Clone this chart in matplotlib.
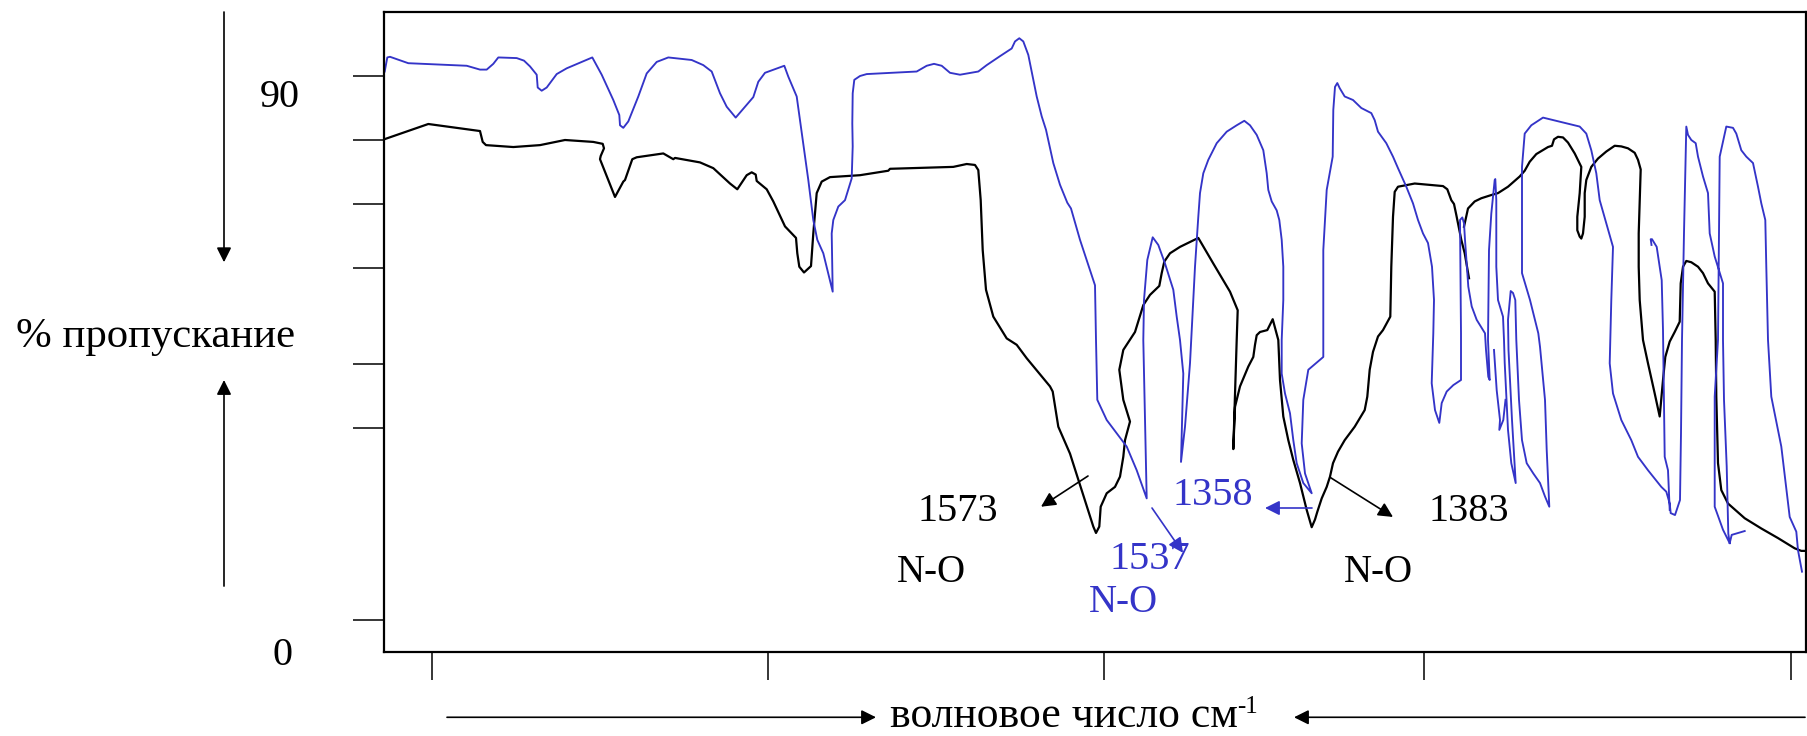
import numpy as np
import matplotlib
matplotlib.use("Agg")
import matplotlib.pyplot as plt

plt.rcParams['font.family'] = ['Liberation Serif', 'DejaVu Serif']

BLUE = '#3434c8'
NAN = float('nan')

# Sample spectrum (black): position along the wavenumber axis, % transmittance
black_pos = [0.0, 4.43, 9.6, 9.87, 10.2, 12.93, 15.6, 18.1, 20.93, 21.87, 22.0, 21.67, 21.6,
             23.1, 23.93, 24.1, 24.83, 25.27, 27.93, 28.93, 29.1, 31.6, 32.93, 34.6, 35.33,
             36.27, 36.77, 37.17, 37.27, 38.27, 38.93, 40.1, 41.2, 41.33, 41.53, 42.0, 42.7,
             42.93, 43.27, 43.77, 44.6, 47.6, 50.43, 50.6, 56.93, 58.27, 59.1, 59.43, 59.67,
             59.87, 60.2, 60.93, 62.27, 63.27, 64.27, 66.6, 66.87, 67.43, 68.6, 70.93, 71.2,
             71.53, 71.67, 72.27, 73.1, 73.6, 73.93, 74.1, 74.6, 73.93, 73.53, 73.93, 75.1,
             75.93, 76.6, 77.53, 77.77, 78.03, 78.6, 79.6, 81.43, 82.93, 84.6, 85.37, 85.27,
             84.93, 85.1, 85.6, 86.43, 86.93, 87.1, 87.27, 87.6, 88.33, 88.87, 89.43, 89.6,
             89.93, 90.43, 90.93, 91.6, 92.27, 92.77, 93.1, 93.33, 93.77, 94.27, 94.6, 94.9,
             95.4, 96.07, 97.07, 98.07, 98.33, 98.57, 98.9, 99.4, 99.9, 100.63, 100.73, 100.9,
             101.07, 101.4, 103.07, 105.9, 106.33, 106.73, 107.0, 107.23, 107.73, 108.07, 108.5,
             NAN,
             108.0, 108.4, 109.07, 109.73, 110.73, 111.4, 112.4, 113.57, 114.07, 114.57, 115.23,
             116.4, 116.8, 117.0, 117.4, 117.9, 118.4, 119.07, 119.73, 119.57, 119.33, 119.33,
             119.57, 119.73, 119.9, 120.07, 120.07, 120.23, 120.73, 121.4, 122.23, 123.07,
             123.73, 124.4, 125.07, 125.4, 125.67, 125.57, 125.47, 125.47, 125.57, 125.9, 126.4,
             127.07, 127.57, 127.9, 128.13, 128.57, 129.07, 129.57, 129.67, 129.9, 130.23,
             130.73, 131.4, 131.9, 132.4, 133.07, 133.17, 133.23, 133.4, 133.73, 134.4, 136.07,
             137.73, 139.4, 141.07, 141.73, 142.2]
black_T = [80.1, 82.5, 81.4, 79.7, 79.2, 78.9, 79.2, 80.0, 79.7, 79.4, 78.7, 77.5, 77.0,
           71.1, 73.5, 73.75, 77.0, 77.3, 77.9, 77.0, 77.2, 76.5, 75.6, 73.2, 72.3,
           74.5, 74.95, 74.6, 73.6, 72.3, 70.4, 66.5, 64.7, 62.3, 60.2, 59.3, 60.3,
           65.4, 71.7, 73.5, 74.2, 74.5, 75.2, 75.5, 75.8, 76.25, 76.1, 75.3, 70.6,
           62.8, 56.6, 52.4, 49.0, 48.0, 45.9, 41.5, 40.7, 35.2, 31.0, 19.6, 18.6,
           19.6, 22.7, 24.8, 25.8, 27.4, 30.5, 33.1, 36.0, 39.4, 44.1, 47.2, 50.0,
           54.2, 55.8, 57.2, 59.2, 61.0, 62.3, 63.3, 64.7, 60.7, 56.3, 53.4, 48.75,
           31.7, 38.3, 41.5, 44.6, 46.1, 48.0, 49.5, 50.0, 50.3, 52.0, 48.75, 42.5,
           36.8, 33.1, 30.0, 26.4, 22.2, 19.5, 20.7, 21.9, 24.0, 25.8, 27.4, 29.5,
           31.3, 33.1, 35.2, 37.8, 39.9, 44.1, 46.9, 49.3, 50.3, 52.4, 60.2, 68.0,
           71.9, 72.7, 73.2, 72.8, 72.3, 70.6, 70.0, 68.3, 64.4, 62.3, 58.4,
           NAN,
           66.45, 69.3, 70.4, 70.9, 71.4, 71.7, 72.7, 74.3, 75.2, 76.6, 77.8,
           78.9, 79.1, 80.1, 80.5, 80.4, 79.6, 77.9, 75.8, 71.7, 68.0, 65.9,
           64.9, 64.6, 65.4, 68.0, 71.7, 73.75, 75.8, 77.1, 78.2, 79.1,
           79.0, 78.7, 78.0, 76.9, 75.4, 70.6, 65.4, 60.2, 55.0, 48.75, 45.1,
           40.4, 36.8, 42.5, 46.1, 48.5, 50.0, 51.6, 57.6, 60.2, 61.1,
           60.9, 60.2, 59.2, 57.6, 56.3, 48.75, 39.9, 29.5, 25.3, 23.2, 20.9,
           19.3, 17.8, 16.2, 15.8, 15.8]

# Reference spectrum (blue)
blue_pos = [0.07, 0.33, 0.6, 2.43, 8.27, 9.6, 10.27, 10.93, 11.43, 13.27, 14.0, 14.6, 15.27,
            15.37, 15.77, 16.27, 17.27, 18.27, 20.83, 21.77, 22.93, 23.53, 23.6, 23.93, 24.43,
            25.43, 26.27, 27.27, 28.43, 30.77, 31.93, 32.77, 33.6, 34.27, 35.17, 36.93, 37.43,
            38.1, 40.03, 40.43, 41.27, 42.43, 42.93, 43.33, 43.93, 44.87, 44.77, 44.93, 45.43,
            46.1, 46.77, 46.87, 46.83, 46.87, 47.03, 47.6, 48.27, 53.27, 54.27, 55.0, 55.77,
            56.6, 57.6, 59.43, 60.27, 61.6, 62.77, 63.1, 63.53, 63.93, 64.43, 65.27, 65.77,
            66.2, 66.93, 67.6, 68.33, 68.7, 69.6, 71.1, 71.2, 71.33, 72.27, 74.27, 75.27,
            76.27, 75.93, 76.0, 76.33, 76.87, 77.43, 78.1, 78.93, 79.27, 79.6, 79.93, 79.7,
            80.1, 80.6, 80.77, 81.1, 81.43, 81.6, 81.93, 82.43, 83.27, 84.27, 85.27, 86.03,
            86.6, 87.27, 87.93, 88.27, 88.43, 88.77, 89.27, 89.53, 89.77, 89.93, 89.93, 89.77,
            89.77, 90.1, 90.6, 90.93, 91.27, 91.93, 92.77, 92.1, 91.77, 91.93, 92.43, 93.93,
            93.93, 94.27, 94.87, 94.93, 95.1, 95.33, 95.57, 96.07, 96.9, 97.73, 98.73, 99.07,
            99.4, 100.23, 100.9, 101.4, 102.23, 102.9, 103.4, 103.9, 104.4, 104.8, 105.0,
            104.93, 104.77, 105.1, 105.53, 105.77, 106.27, 106.93, 107.7, 107.7, 107.6, 107.83,
            108.0, 108.1, 108.43, 108.77, 109.27, 110.1, 110.2, 110.43, 110.57,
            110.4, 110.5, 110.73, 111.07, 111.13, 111.23, 111.23, 111.4, 111.9, 112.0, 112.07,
            112.4, 112.73, 113.17, 112.8, 112.45, 112.4, 112.67, 112.9, 113.13, 113.23, 113.5,
            113.8, 114.27, 114.93, 115.6, 116.1, 116.53, 116.27, 116.1, 115.6, 115.43, 114.6,
            113.8, 113.8, 114.07, 114.73, 115.9,
            119.57, 120.23, 120.73, 121.23, 121.57, 122.23, 122.9, 122.73,
            122.57, 122.9, 123.73, 124.73, 125.4, 126.4, 127.73, 128.23, 128.57, 128.67, 129.1,
            129.6, 129.7, 129.8, 130.0, 130.23, 130.4, 130.73, 131.17, 131.4, 131.9, 132.4,
            132.57, 133.07, 133.9, 133.9, 134.0, 134.27, 134.43, 134.57, 133.9, 133.07, 133.07,
            133.4, 133.57, 134.23, 134.9, 135.23, 135.73, 136.23, 136.9, 137.4, 137.73, 138.13,
            138.23, 138.4, 138.73, 139.73, 140.57, 141.23, 141.4, 141.8,
            NAN, 134.57, 134.77, 136.07,
            NAN, 128.57, 128.4, 128.07, 127.9, 127.77, 127.27, 126.8, 126.67, 126.75,
            NAN, 111.0, 111.27, 111.6, 111.53, 111.93, 112.15]
blue_T = [90.7, 92.9, 93.0, 92.0, 91.6, 91.0, 91.0, 91.9, 92.9, 92.8, 92.4, 91.5, 90.2,
          88.2, 87.7, 88.2, 90.3, 91.2, 92.9, 90.2, 86.25, 83.9, 82.3, 81.9, 82.9,
          86.8, 90.4, 92.2, 92.9, 92.5, 91.7, 90.7, 87.3, 85.2, 83.5, 86.7, 89.1,
          90.5, 91.6, 89.9, 86.8, 73.75, 67.5, 64.4, 62.3, 56.3, 65.4, 67.5, 69.6,
          70.6, 74.0, 79.0, 82.6, 87.3, 89.4, 90.0, 90.3, 90.7, 91.6, 91.9, 91.6,
          90.5, 90.2, 90.7, 91.7, 93.1, 94.3, 95.4, 95.9, 95.4, 93.3, 86.8, 83.7,
          81.6, 76.4, 73.0, 70.2, 69.3, 64.4, 57.3, 48.75, 39.4, 36.25, 32.1, 28.4,
          24.0, 48.75, 55.0, 61.25, 64.8, 63.6, 60.7, 56.6, 52.4, 48.75, 43.5, 29.7,
          35.2, 45.1, 50.3, 60.2, 68.0, 71.7, 74.8, 76.9, 79.5, 81.3, 82.3, 83.0,
          82.3, 80.8, 78.4, 74.8, 72.2, 70.4, 69.0, 67.5, 64.4, 60.2, 55.0, 48.75,
          43.5, 40.4, 37.3, 33.1, 29.5, 26.4, 24.8, 27.9, 32.6, 39.4, 44.1, 46.1,
          62.8, 72.2, 77.4, 84.7, 88.3, 88.9, 88.1, 86.8, 86.25, 85.0, 84.2, 83.1,
          81.3, 79.5, 77.4, 75.6, 72.7, 70.1, 67.5, 65.4, 63.9, 60.2, 55.0,
          49.8, 42.0, 37.8, 35.8, 38.9, 40.7, 41.7, 42.5, 49.8, 67.5, 67.9,
          67.0, 64.4, 57.1, 54.0, 51.9, 49.8, 47.2, 43.0, 42.5,
          48.75, 62.8, 68.5, 73.75, 73.9, 70.6, 60.2, 55.0, 52.4, 48.75, 45.2,
          34.7, 29.5, 26.4, 36.25, 47.2, 51.9, 56.4, 56.1, 55.0, 48.75, 39.4,
          33.1, 29.5, 27.9, 26.4, 24.3, 22.7, 31.6, 39.4, 47.7, 49.8, 55.0,
          59.2, 75.8, 81.0, 82.3, 83.5,
          82.1, 81.0, 78.4, 74.8, 70.6, 67.0, 63.3, 55.0,
          45.1, 40.4, 36.25, 33.1, 30.5, 28.4, 25.8, 25.05, 23.2, 21.7, 21.4,
          23.75, 34.2, 48.75, 65.5, 82.1, 80.8, 80.0, 79.5, 77.4, 74.3, 71.7,
          65.4, 61.8, 57.6, 48.75, 39.4, 29.0, 18.5, 17.0, 19.1, 22.7, 39.9,
          48.75, 77.4, 82.1, 81.9, 81.0, 78.4, 77.4, 76.4, 72.7, 70.1, 67.5,
          60.2, 48.75, 39.9, 32.1, 21.1, 18.8, 15.9, 12.55,
          NAN, 17.0, 18.3, 18.9,
          NAN, 22.2, 28.4, 30.5, 50.3, 58.1, 63.3, 64.5, 64.5, 63.6,
          NAN, 47.2, 40.9, 36.25, 34.7, 36.25, 39.4]

# Axis furniture
y_tick_pos = [90, 80, 70, 60, 45, 35, 5]
x_tick_pos = [4.8, 38.4, 72.0, 104.0, 140.7]
y_tick_text = ["90", "0"]
y_tick_text_pos = [(-10.4, 86.7), (-10.1, -0.5)]

# Band assignments: (text, colour, label position, arrow tail, arrow head)
peak_labels = ["1573", "1537", "1358", "1383"]
peak_colors = ["black", BLUE, BLUE, "black"]
peak_text_pos = [(57.4, 21.9), (76.6, 14.4), (82.9, 24.5), (108.5, 21.9)]
peak_arrow_tail = [(70.4, 27.5), (76.8, 22.5), (92.8, 22.5), (94.6, 27.3)]
peak_arrow_head = [(65.7, 22.7), (79.9, 15.5), (88.1, 22.5), (100.9, 21.1)]
group_labels = ["N-O", "N-O", "N-O"]
group_colors = ["black", BLUE, "black"]
group_pos = [(54.7, 12.5), (73.9, 7.7), (99.4, 12.5)]

FS = 29

fig = plt.figure(figsize=(18.08, 7.36), dpi=100)
ax = fig.add_axes([384 / 1808, 84 / 736, 1422 / 1808, 640 / 736])
ax.set_xlim(0, 142.2)
ax.set_ylim(0, 100)

ax.plot(black_pos, black_T, color='black', lw=1.6, solid_joinstyle='round')
ax.plot(blue_pos, blue_T, color=BLUE, lw=1.35, solid_joinstyle='round')

for s in ax.spines.values():
    s.set_linewidth(1.6)
ax.set_yticks(y_tick_pos)
ax.set_xticks(x_tick_pos)
ax.tick_params(axis='y', direction='out', length=22, width=1.1, labelleft=False)
ax.tick_params(axis='x', direction='out', length=20, width=1.1, labelbottom=False)

for t, (x, y) in zip(y_tick_text, y_tick_text_pos):
    ax.text(x, y, t, fontsize=FS, ha='center', va='center', clip_on=False)

arrow_kw = dict(arrowstyle='-|>', lw=1.2, mutation_scale=22, shrinkA=0, shrinkB=0)

for lab, col, tp, tail, head in zip(peak_labels, peak_colors, peak_text_pos,
                                    peak_arrow_tail, peak_arrow_head):
    ax.text(tp[0], tp[1], lab, color=col, fontsize=FS, ha='center', va='center')
    ax.annotate('', xy=head, xytext=tail, arrowprops=dict(color=col, **arrow_kw))
for lab, col, p in zip(group_labels, group_colors, group_pos):
    ax.text(p[0], p[1], lab, color=col, fontsize=28, ha='center', va='center')

# y-axis caption with arrows
ax.text(-22.8, 49.2, "% пропускание", fontsize=30.8, ha='center', va='center', clip_on=False)
ax.annotate('', xy=(-16, 60.9), xytext=(-16, 100), annotation_clip=False,
            arrowprops=dict(color='black', **arrow_kw))
ax.annotate('', xy=(-16, 42.5), xytext=(-16, 10.3), annotation_clip=False,
            arrowprops=dict(color='black', **arrow_kw))

# x-axis caption with arrows
ax.text(67.96, -11.75, "волновое число см", fontsize=31.5, ha='center', va='baseline',
        clip_on=False)
ax.text(85.3, -8.6, "-1", fontsize=18, ha='left', va='center', clip_on=False)
ax.annotate('', xy=(49.2, -10.2), xytext=(6.3, -10.2), annotation_clip=False,
            arrowprops=dict(color='black', **arrow_kw))
ax.annotate('', xy=(91.0, -10.2), xytext=(142.1, -10.2), annotation_clip=False,
            arrowprops=dict(color='black', **arrow_kw))

fig.savefig('out.png', dpi=100)
